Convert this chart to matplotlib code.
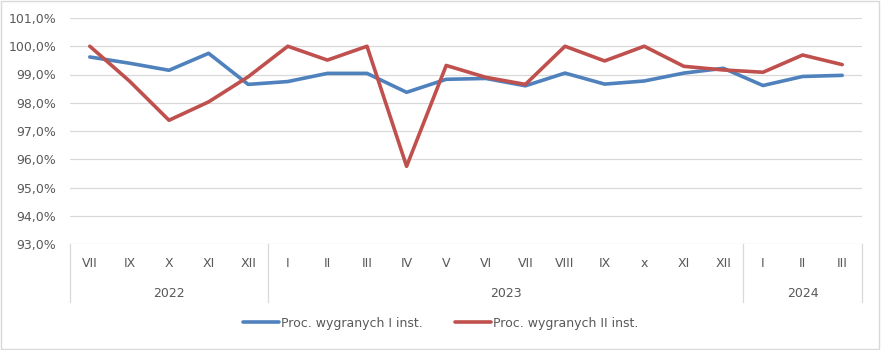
import numpy as np
import matplotlib.pyplot as plt
from matplotlib import transforms
from matplotlib.patches import Rectangle
from matplotlib.ticker import FuncFormatter

plt.rcParams['font.family'] = ['Liberation Sans Narrow', 'DejaVu Sans']

# --- DATA ---
months_2022 = ["VII", "IX", "X", "XI", "XII"]
months_2023 = ["I", "II", "III", "IV", "V", "VI", "VII", "VIII", "IX", "x", "XI", "XII"]
months_2024 = ["I", "II", "III"]
years = ["2022", "2023", "2024"]

inst1 = [99.62, 99.40, 99.15, 99.75, 98.65, 98.75, 99.04, 99.04, 98.37, 98.83,
         98.86, 98.60, 99.05, 98.66, 98.77, 99.05, 99.22, 98.61, 98.93, 98.97]
inst2 = [100.0, 98.77, 97.38, 98.03, 98.92, 100.0, 99.51, 100.0, 95.75, 99.32,
         98.90, 98.65, 100.0, 99.48, 100.0, 99.29, 99.16, 99.08, 99.69, 99.35]

labels_1 = "Proc. wygranych I inst."
labels_2 = "Proc. wygranych II inst."

# --- PLOT ---
groups = [months_2022, months_2023, months_2024]
months = months_2022 + months_2023 + months_2024
x = np.arange(len(months))

text_col = "#595959"
grid_col = "#D9D9D9"
fs = 9

fig = plt.figure(figsize=(8.81, 3.5), dpi=100)
ax = fig.add_axes([70/881, 106/350, 792/881, 226/350])

ax.plot(x, inst1, color="#4F81BD", lw=2.6, label=labels_1, solid_capstyle="round")
ax.plot(x, inst2, color="#C0504D", lw=2.6, label=labels_2, solid_capstyle="round")

ax.set_xlim(-0.5, len(months) - 0.5)
ax.set_ylim(93, 101)
ax.set_yticks(np.arange(93, 101.5, 1))
ax.yaxis.set_major_formatter(FuncFormatter(lambda v, p: f"{v:.1f}%".replace(".", ",")))
ax.grid(axis="y", color=grid_col, lw=0.9)
ax.set_axisbelow(True)
for s in ax.spines.values():
    s.set_visible(False)
ax.tick_params(axis="y", length=0, labelsize=fs, colors=text_col, pad=10)
ax.set_xticks([])

# multi-level category axis
trans = transforms.blended_transform_factory(ax.transData, ax.transAxes)
for i, m in enumerate(months):
    ax.text(i, -0.088, m, transform=trans, ha="center", va="center",
            fontsize=fs, color=text_col)

start = 0
bounds = [-0.5]
for yr, g in zip(years, groups):
    mid = start + (len(g) - 1) / 2
    ax.text(mid, -0.217, yr, transform=trans, ha="center", va="center",
            fontsize=fs, color=text_col)
    start += len(g)
    bounds.append(start - 0.5)
for b in bounds:
    ax.plot([b, b], [0, -0.257], transform=trans, color=grid_col, lw=0.9, clip_on=False)

fig.legend(loc="center", bbox_to_anchor=(0.5, 0.077), ncol=2, frameon=False,
           fontsize=fs, labelcolor=text_col, handlelength=2.9,
           handletextpad=0.15, columnspacing=2.6)

fig.patches.append(Rectangle((0.001, 0.002), 0.997, 0.995, transform=fig.transFigure,
                             fill=False, edgecolor=grid_col, lw=1))

plt.savefig("out.png", dpi=100)
